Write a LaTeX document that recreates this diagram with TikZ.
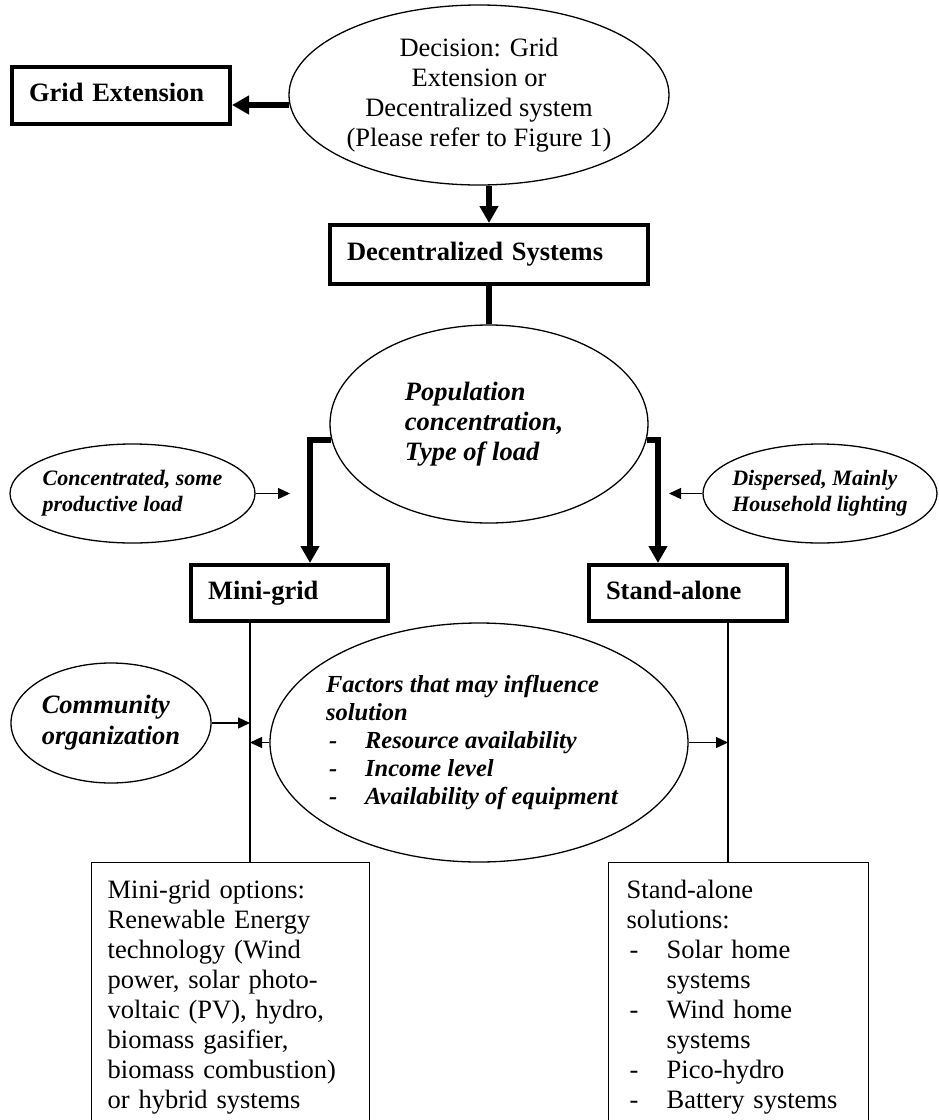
\documentclass[tikz,border=0pt]{standalone}
\usepackage{fontspec}
\setmainfont{Liberation Serif}
\usetikzlibrary{arrows.meta,calc,shapes.geometric}
\begin{document}
\begin{tikzpicture}[x=1pt,y=-1pt,
  bigbox/.style={draw,line width=4pt,rectangle,inner xsep=17pt,inner ysep=0pt,text height=18pt,text depth=6pt,align=left,font=\fontsize{26.5}{30}\selectfont\bfseries},
  oval/.style={draw,ellipse,line width=1.3pt,inner sep=-30pt,align=left},
  optbox/.style={draw,line width=1.3pt,rectangle,anchor=north west,inner ysep=17pt,align=left,font=\fontsize{26.5}{30}\selectfont},
  thickarr/.style={line width=6pt,-{Triangle[length=17pt,width=18pt]}},
  thickline/.style={line width=6pt},
  thinarr/.style={line width=1.3pt,-{Triangle[length=12pt,width=11pt]}},
  thinline/.style={line width=1.3pt}]
\useasboundingbox (0,0) rectangle (938,1120);
\clip (0,0) rectangle (938,1120);

% boxes
\node[bigbox,minimum width=218pt,minimum height=57pt,text width=184pt] (grid) at (121,95.5) {Grid Extension};
\node[bigbox,minimum width=318pt,minimum height=59pt,text width=284pt] (dec) at (489,254.5) {Decentralized Systems};
\node[bigbox,minimum width=197pt,minimum height=56pt,text width=163pt] (mini) at (289.5,593) {Mini-grid};
\node[bigbox,minimum width=198pt,minimum height=56pt,text width=164pt] (stand) at (688,593) {Stand-alone};

% ellipses
\node[oval,align=center,minimum width=380pt,minimum height=180pt,font=\fontsize{26.5}{30}\selectfont] (decision) at (479,95)
  {Decision: Grid\\ Extension or\\ Decentralized system\\ (Please refer to Figure 1)};
\node[oval,minimum width=318pt,minimum height=198pt,font=\fontsize{26.5}{30}\selectfont\bfseries\itshape] (pop) at (489,424)
  {Population\\ concentration,\rule{10pt}{0pt}\\ Type of load};
\node[oval,minimum width=245pt,minimum height=99pt,font=\fontsize{22}{26}\selectfont\bfseries\itshape] (conc) at (132.5,493.5)
  {Concentrated, some\\ productive load};
\node[oval,minimum width=234pt,minimum height=99pt,font=\fontsize{22}{26}\selectfont\bfseries\itshape] (disp) at (820,493.5)
  {Dispersed, Mainly\\ Household lighting};
\node[oval,minimum width=200pt,minimum height=120pt,font=\fontsize{26.5}{31}\selectfont\bfseries\itshape] (comm) at (111,723)
  {Community\\ organization};
\node[oval,minimum width=418pt,minimum height=239pt,font=\fontsize{24.5}{28}\selectfont\bfseries\itshape] (fac) at (479,742.5)
  {Factors that may influence\\ solution\\
   \makebox[39pt][l]{\hspace*{3pt}-}Resource availability\\
   \makebox[39pt][l]{\hspace*{3pt}-}Income level\\
   \makebox[39pt][l]{\hspace*{3pt}-}Availability of equipment\rule{14pt}{0pt}};

% option boxes (open at the bottom, clipped)
\node[optbox,inner xsep=16pt,text width=246pt] (mopt) at (91,862)
  {Mini-grid options:\\ Renewable Energy\\ technology (Wind\\ power, solar photo-\\ voltaic (PV), hydro,\\ biomass gasifier,\\ biomass combustion)\\ or hybrid systems};
\node[optbox,inner xsep=18pt,text width=224pt] (sopt) at (608,862)
  {Stand-alone\\ solutions:\\
   \makebox[40pt][l]{\hspace*{3pt}-}Solar home\\
   \hspace*{40pt}systems\\
   \makebox[40pt][l]{\hspace*{3pt}-}Wind home\\
   \hspace*{40pt}systems\\
   \makebox[40pt][l]{\hspace*{3pt}-}Pico-hydro\\
   \makebox[40pt][l]{\hspace*{3pt}-}Battery systems};

% coordinates
\coordinate (d1) at ($(decision.west)+(1,10)$);
\coordinate (mgtop) at ($(mini.south west)+(61,0)$);
\coordinate (sttop) at ($(stand.south west)+(141,0)$);
\coordinate (ca) at (290,493.5);
\coordinate (da) at (669,493.5);

% thick connectors
\draw[thickarr] (d1) -- (d1 -| grid.east);
\draw[thickarr] (dec.north |- decision.south) -- (dec.north);
\draw[thickline] (dec.south) -- (pop.north);
\draw[thickarr] ($(pop.west)+(2,16)$) -| ($(mini.north west)+(121,0)$);
\draw[thickarr] ($(pop.east)+(-2,16)$) -| ($(stand.north west)+(71,0)$);

% thin connectors
\draw[thinarr] (conc.east) -- (ca);
\draw[thinarr] (disp.west) -- (da);
\draw[thinline] (mgtop) -- (mgtop |- mopt.north);
\draw[thinline] (sttop) -- (sttop |- sopt.north);
\draw[thinarr] (comm.east) -- (comm.east -| mgtop);
\draw[thinarr] (fac.west) -- (fac.west -| mgtop);
\draw[thinarr] (fac.east) -- (fac.east -| sttop);
\end{tikzpicture}
\end{document}
